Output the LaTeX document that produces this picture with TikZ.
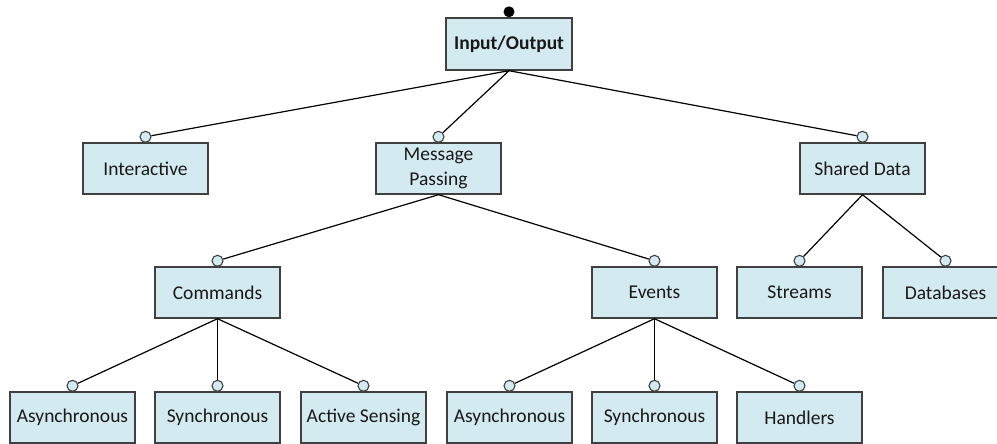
\documentclass[tikz,border=0pt]{standalone}
\usepackage{fontspec}
\setmainfont{Carlito}
\definecolor{boxfill}{RGB}{211,234,240}
\definecolor{boxline}{RGB}{64,64,64}
\begin{document}
\begin{tikzpicture}[x=1pt,y=-1pt,
  box/.style={draw=boxline,line width=1.4pt,fill=boxfill,rectangle,
    minimum width=125pt,minimum height=51pt,inner sep=0pt,align=center,
    font=\fontsize{19.5}{24}\selectfont,text=black!90},
  port/.style={draw=boxline,line width=1.1pt,fill=boxfill,circle,
    minimum size=11pt,inner sep=0pt},
  link/.style={draw=black,line width=1.2pt}]
\useasboundingbox (0,0) rectangle (997,444);
% boxes
\node[box,minimum width=126pt,minimum height=52pt,font=\fontsize{19.5}{24}\selectfont\bfseries] (io) at (509,44) {Input/Output};
\node[box] (int) at (145.5,168.5) {Interactive};
\node[box] (mp) at (438.5,168.5) {Message\\[1pt]Passing};
\node[box] (sd) at (862.5,168.5) {Shared Data};
\node[box] (cmd) at (217.5,292.5) {Commands};
\node[box] (ev) at (654.5,292.5) {Events};
\node[box] (st) at (799.5,292.5) {Streams};
\node[box] (db) at (945.5,292.5) {Databases};
\node[box] (a1) at (72.5,417.5) {Asynchronous};
\node[box] (s1) at (217.5,417.5) {Synchronous};
\node[box] (as) at (363.5,417.5) {Active Sensing};
\node[box] (a2) at (509.5,417.5) {Asynchronous};
\node[box] (s2) at (654.5,417.5) {Synchronous};
\node[box] (hd) at (799.5,417.5) {Handlers};
% top dot
\node[circle,fill=black,minimum size=11pt,inner sep=0pt] (dot) at ([yshift=5.5pt]io.north) {};
% ports
\foreach \n in {int,mp,sd,cmd,ev,st,db,a1,s1,as,a2,s2,hd}
  \node[port] (p\n) at ([yshift=5.5pt]\n.north) {};
% links
\foreach \n in {int,mp,sd} \draw[link] (io.south) -- (p\n);
\foreach \n in {cmd,ev} \draw[link] (mp.south) -- (p\n);
\foreach \n in {st,db} \draw[link] (sd.south) -- (p\n);
\foreach \n in {a1,s1,as} \draw[link] (cmd.south) -- (p\n);
\foreach \n in {a2,s2,hd} \draw[link] (ev.south) -- (p\n);
\end{tikzpicture}
\end{document}
